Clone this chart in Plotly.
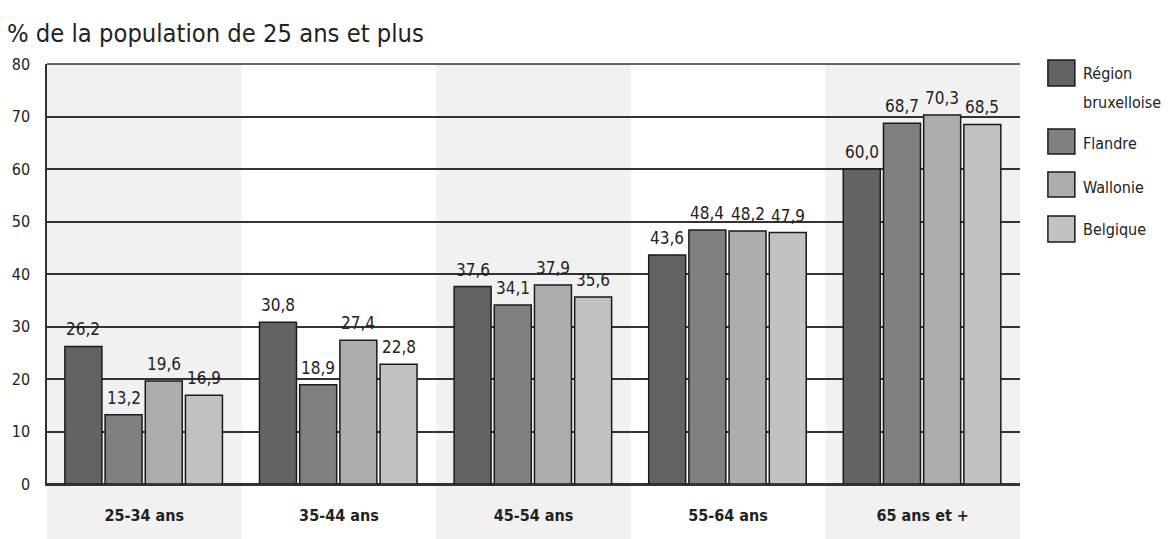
import plotly.graph_objects as go

categories = ["25-34 ans", "35-44 ans", "45-54 ans", "55-64 ans", "65 ans et +"]
series_names = ["Région bruxelloise", "Flandre", "Wallonie", "Belgique"]
bruxelles = [26.2, 30.8, 37.6, 43.6, 60.0]
flandre = [13.2, 18.9, 34.1, 48.4, 68.7]
wallonie = [19.6, 27.4, 37.9, 48.2, 70.3]
belgique = [16.9, 22.8, 35.6, 47.9, 68.5]
y_ticks = [0, 10, 20, 30, 40, 50, 60, 70, 80]

colors = ["#636363", "#808080", "#adadad", "#c2c2c2"]
FONT = "DejaVu Sans Condensed, Liberation Sans Narrow, sans-serif"
TXT = "#222222"

W, H = 1169, 539
L, R, T, B = 44, 1020, 64, 484

BAR_W = 0.19
STEP = 0.2065
START = -0.408

def px(x):
    return (x - L) / (R - L)

def py(y):
    return (B - y) / (B - T)

fig = go.Figure()
annotations = []
for j, (name, vals, c) in enumerate(zip(series_names, [bruxelles, flandre, wallonie, belgique], colors)):
    off = START + j * STEP
    fig.add_trace(go.Bar(
        x=categories, y=vals, name=name,
        width=BAR_W, offset=off,
        marker=dict(color=c, line=dict(color="#1a1a1a", width=1.5)),
        showlegend=False, hoverinfo="x+y+name",
    ))
    for i, v in enumerate(vals):
        annotations.append(dict(
            x=i + off + BAR_W / 2, y=v, xref="x", yref="y",
            text=f"{v:.1f}".replace(".", ","), showarrow=False,
            xanchor="center", yanchor="bottom", yshift=5,
            font=dict(family=FONT, size=17, color=TXT),
        ))

shapes = []
for i in (0, 2, 4):
    shapes.append(dict(type="rect", xref="x", yref="paper", x0=i - 0.5, x1=i + 0.5,
                       y0=py(539), y1=1, fillcolor="#f1f1f1", line=dict(width=0), layer="below"))
shapes.append(dict(type="line", xref="paper", yref="paper", x0=0, x1=1, y0=1, y1=1,
                   line=dict(color="#333333", width=1.5)))

annotations.append(dict(text="% de la population de 25 ans et plus", xref="paper", yref="paper",
                        x=px(2), y=py(33), xanchor="left", yanchor="middle", showarrow=False,
                        font=dict(family=FONT, size=25.3, color=TXT)))

legend_boxes = [(60, 86), (129, 154), (172, 197), (216, 242)]
for (y0, y1), c in zip(legend_boxes, colors):
    shapes.append(dict(type="rect", xref="paper", yref="paper", x0=px(1048), x1=px(1075),
                       y0=py(y1), y1=py(y0), fillcolor=c, line=dict(color="#1a1a1a", width=1.5)))
legend_labels = [("Région", 73), ("bruxelloise", 102), ("Flandre", 143), ("Wallonie", 187), ("Belgique", 229)]
for t, yy in legend_labels:
    annotations.append(dict(text=t, xref="paper", yref="paper", x=px(1081), y=py(yy),
                            xanchor="left", yanchor="middle", showarrow=False,
                            font=dict(family=FONT, size=16, color=TXT)))

fig.update_layout(
    width=W, height=H,
    margin=dict(l=L, r=W - R, t=T, b=H - B, pad=0),
    paper_bgcolor="white", plot_bgcolor="rgba(0,0,0,0)",
    barmode="overlay",
    shapes=shapes, annotations=annotations,
    font=dict(family=FONT, color=TXT),
)
fig.update_xaxes(showgrid=False, showline=True, linecolor="#333333", linewidth=1.5,
                 ticks="", tickfont=dict(family=FONT, size=16, color=TXT, weight="bold"),
                 ticklabelstandoff=16, range=[-0.5, 4.5])
fig.update_yaxes(range=[0, 80], tickvals=y_ticks, showgrid=True, gridcolor="#333333", gridwidth=1.5,
                 showline=True, linecolor="#333333", linewidth=1.5,
                 zeroline=True, zerolinecolor="#333333", zerolinewidth=1.5,
                 ticks="", tickfont=dict(size=16, color=TXT), ticklabelstandoff=12)

fig.write_html("out.html", config={"displayModeBar": False},
               post_script="document.body.style.margin='0';document.body.style.padding='0';")
